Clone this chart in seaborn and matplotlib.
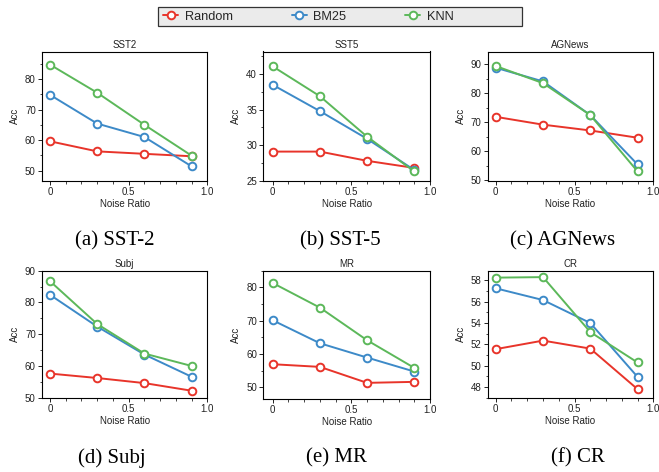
import matplotlib
matplotlib.use("Agg")
import matplotlib.pyplot as plt
from matplotlib.lines import Line2D
from matplotlib.patches import Rectangle
from matplotlib.ticker import MultipleLocator
import seaborn as sns
import pandas as pd

sns.set_theme(style="white")
plt.rcParams['font.family'] = ['Liberation Sans', 'DejaVu Sans']

noise_ratio = [0.0, 0.3, 0.6, 0.9]
methods = ["Random", "BM25", "KNN"]
colors = {"Random": "#e8342a", "BM25": "#3d8ac8", "KNN": "#5cb85a"}

titles = ["SST2", "SST5", "AGNews", "Subj", "MR", "CR"]
captions = ["(a) SST-2", "(b) SST-5", "(c) AGNews", "(d) Subj", "(e) MR", "(f) CR"]

sst2_random = [59.6, 56.3, 55.5, 54.7]
sst2_bm25 = [74.8, 65.4, 61.0, 51.4]
sst2_knn = [84.7, 75.5, 65.0, 54.9]

sst5_random = [29.1, 29.1, 27.8, 26.8]
sst5_bm25 = [38.5, 34.8, 30.9, 26.5]
sst5_knn = [41.1, 36.9, 31.2, 26.3]

agnews_random = [71.8, 69.1, 67.1, 64.6]
agnews_bm25 = [88.7, 84.0, 72.4, 55.4]
agnews_knn = [89.3, 83.4, 72.4, 53.0]

subj_random = [57.6, 56.2, 54.6, 52.2]
subj_bm25 = [82.4, 72.4, 63.6, 56.6]
subj_knn = [86.7, 73.2, 63.9, 60.0]

mr_random = [56.9, 56.1, 51.3, 51.6]
mr_bm25 = [70.1, 63.2, 58.9, 54.7]
mr_knn = [81.3, 73.9, 64.1, 55.8]

cr_random = [51.55, 52.35, 51.6, 47.8]
cr_bm25 = [57.25, 56.15, 54.0, 48.95]
cr_knn = [58.25, 58.3, 53.15, 50.3]

series = [
    (sst2_random, sst2_bm25, sst2_knn),
    (sst5_random, sst5_bm25, sst5_knn),
    (agnews_random, agnews_bm25, agnews_knn),
    (subj_random, subj_bm25, subj_knn),
    (mr_random, mr_bm25, mr_knn),
    (cr_random, cr_bm25, cr_knn),
]

ylims = [(46.7, 89.0), (25.0, 43.2), (49.8, 94.3), (50.0, 90.0), (46.6, 85.0), (47.0, 58.9)]
yticks = [[50, 60, 70, 80], [25, 30, 35, 40], [50, 60, 70, 80, 90],
          [50, 60, 70, 80, 90], [50, 60, 70, 80], [48, 50, 52, 54, 56, 58]]
yminor = [5, 2.5, 5, 5, 5, 1]

W, H = 659, 472
fig = plt.figure(figsize=(W / 100, H / 100), dpi=100)

# pixel boxes: left, top, right, bottom
boxes = [
    (42, 51.5, 207.3, 180.7),
    (263.3, 51.5, 430, 180.7),
    (487.7, 51.5, 653.3, 180.7),
    (42, 270.7, 207.3, 397.7),
    (263.3, 270.7, 430, 398.5),
    (487.7, 270.7, 653.3, 397.7),
]
xleft = [-0.051, -0.06, -0.051, -0.051, -0.06, -0.051]
cap_y = [241, 241, 241, 458, 458, 458]
cap_x = [115, 340, 563, 112, 336, 578]

for i, (l, t, r, b) in enumerate(boxes):
    ax = fig.add_axes([l / W, 1 - b / H, (r - l) / W, (b - t) / H])
    rnd, bm, knn = series[i]
    df = pd.DataFrame({
        "Noise Ratio": noise_ratio * 3,
        "Acc": list(rnd) + list(bm) + list(knn),
        "Method": ["Random"] * 4 + ["BM25"] * 4 + ["KNN"] * 4,
    })
    for m in methods:
        sub = df[df["Method"] == m]
        sns.lineplot(data=sub, x="Noise Ratio", y="Acc", ax=ax, color=colors[m],
                     marker="o", markersize=5.5, markerfacecolor="white",
                     markeredgecolor=colors[m], markeredgewidth=1.4,
                     linewidth=1.4, legend=False)
    ax.set_xlim(xleft[i], 1.0)
    ax.set_ylim(*ylims[i])
    ax.set_xticks([0, 0.5, 1.0])
    ax.set_xticklabels(["0", "0.5", "1.0"])
    ax.xaxis.set_minor_locator(MultipleLocator(0.1))
    ax.set_yticks(yticks[i])
    ax.yaxis.set_minor_locator(MultipleLocator(yminor[i]))
    ax.tick_params(which="major", direction="out", length=3, width=0.7,
                   labelsize=7, pad=1.5, colors="#222222", left=True, bottom=True)
    ax.tick_params(which="minor", direction="out", length=1.8, width=0.6,
                   left=True, bottom=True)
    for s in ax.spines.values():
        s.set_color("black")
        s.set_linewidth(0.8)
    ax.set_title(titles[i], fontsize=7, pad=2.5, color="#222222")
    ax.set_xlabel("Noise Ratio", fontsize=7, labelpad=1.5, color="#222222")
    ax.set_ylabel("Acc", fontsize=7, labelpad=3.5, color="#222222")
    ax.grid(False)
    ax.set_facecolor("white")
    fig.text(cap_x[i] / W, 1 - cap_y[i] / H, captions[i],
             fontsize=15, family=["Liberation Serif", "DejaVu Serif"],
             ha="center", va="center", color="black")

# legend box
box_l, box_t, box_r, box_b = 158, 7, 522, 26
fig.patches.append(Rectangle((box_l / W, 1 - box_b / H), (box_r - box_l) / W,
                             (box_b - box_t) / H, transform=fig.transFigure,
                             facecolor="#ebebeb", edgecolor="#333333",
                             linewidth=0.9, zorder=0))

handles = [Line2D([0], [0], color=colors[m], marker="o", markersize=5.5,
                  markerfacecolor="white", markeredgecolor=colors[m],
                  markeredgewidth=1.4, linewidth=1.4) for m in methods]
leg = fig.legend(handles, methods, loc="center left",
                 bbox_to_anchor=(163 / W, 1 - 16.5 / H),
                 ncol=3, frameon=False, fontsize=9.2, handlelength=1.2,
                 handletextpad=0.5, columnspacing=4.6, borderpad=0.0,
                 borderaxespad=0.0)

fig.savefig("out.png", dpi=100)
